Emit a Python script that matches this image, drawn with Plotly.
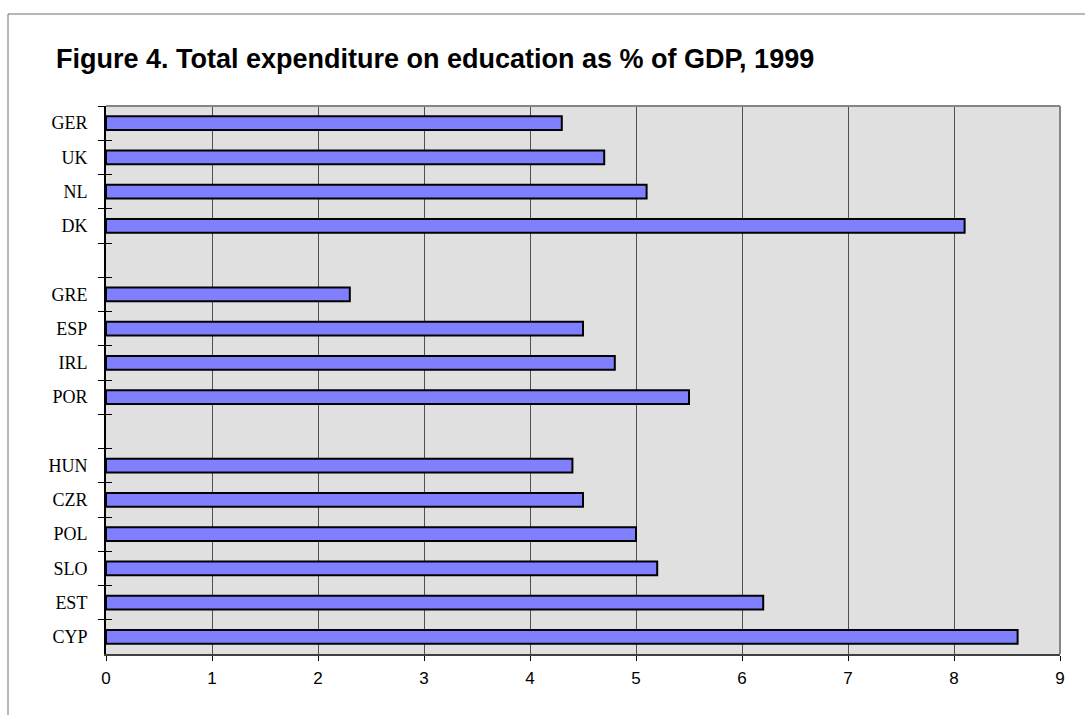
import plotly.graph_objects as go

# ---- data ----
categories = ["GER", "UK", "NL", "DK", " ", "GRE", "ESP", "IRL", "POR", "  ",
              "HUN", "CZR", "POL", "SLO", "EST", "CYP"]
values = [4.3, 4.7, 5.1, 8.1, None, 2.3, 4.5, 4.8, 5.5, None,
          4.4, 4.5, 5.0, 5.2, 6.2, 8.6]
x_ticks = list(range(0, 10))
title_text = "Figure 4. Total expenditure on education as % of GDP, 1999"

# ---- layout geometry (pixels) ----
W, H = 1085, 715
L, R_EDGE, T, B = 106, 1060, 106, 654
n = len(categories)


def px_x(px):
    return (px - L) / (R_EDGE - L)


def px_y(py):
    return (B - py) / (B - T)


fig = go.Figure()
fig.add_trace(go.Bar(
    x=values, y=categories, orientation="h",
    marker=dict(color="#8080ff", line=dict(color="black", width=2)),
    showlegend=False, hoverinfo="x+y",
))
# empty helper trace for the inner half of the y tick marks
fig.add_trace(go.Scatter(x=[], y=[], yaxis="y2", showlegend=False))

fig.update_layout(
    width=W, height=H,
    margin=dict(l=L, r=W - R_EDGE, t=T, b=H - B, pad=0),
    paper_bgcolor="white",
    plot_bgcolor="#e0e0e0",
    bargap=0.6,
    title=dict(
        text="<b>" + title_text + "</b>",
        font=dict(family="Liberation Sans, Arial", size=27, color="black"),
        xref="container", x=56 / W, xanchor="left",
        yref="container", y=1 - 59 / H, yanchor="middle",
    ),
    xaxis=dict(
        range=[0, 9], tickmode="array", tickvals=x_ticks,
        ticktext=[str(v) for v in x_ticks],
        showgrid=True, gridcolor="#505050", gridwidth=1,
        zeroline=False,
        showline=True, linecolor="#404040", linewidth=2,
        ticks="outside", ticklen=5, tickcolor="black", tickwidth=1,
        tickfont=dict(family="Liberation Sans, Arial", size=17, color="black"),
        ticklabelstandoff=3,
    ),
    yaxis=dict(
        type="category", categoryorder="array", categoryarray=categories,
        range=[n - 0.5, -0.5],
        tickson="boundaries",
        showgrid=False, zeroline=False,
        showline=True, linecolor="black", linewidth=2,
        ticks="outside", ticklen=6, tickcolor="black", tickwidth=1,
        tickfont=dict(family="Liberation Serif, Times New Roman", size=18, color="black"),
        ticklabelstandoff=13,
    ),
    yaxis2=dict(
        overlaying="y", anchor="x", side="left",
        range=[n - 0.5, -0.5],
        tickmode="array", tickvals=[i - 0.5 for i in range(n + 1)],
        ticks="inside", ticklen=6, tickcolor="black", tickwidth=1,
        showticklabels=False, showgrid=False, zeroline=False, showline=False,
    ),
    shapes=[
        # plot frame top & right (gray)
        dict(type="line", xref="paper", yref="paper", x0=0, x1=1, y0=1, y1=1,
             line=dict(color="#858585", width=2), layer="above"),
        dict(type="line", xref="paper", yref="paper", x0=1, x1=1, y0=0, y1=1,
             line=dict(color="#858585", width=2), layer="above"),
        # outer chart frame (top & left)
        dict(type="line", xref="paper", yref="paper",
             x0=px_x(8), x1=px_x(W + 5), y0=px_y(14), y1=px_y(14),
             line=dict(color="#707070", width=1)),
        dict(type="line", xref="paper", yref="paper",
             x0=px_x(8), x1=px_x(8), y0=px_y(14), y1=px_y(H + 5),
             line=dict(color="#707070", width=1)),
    ],
)

fig.write_html("out.html")
